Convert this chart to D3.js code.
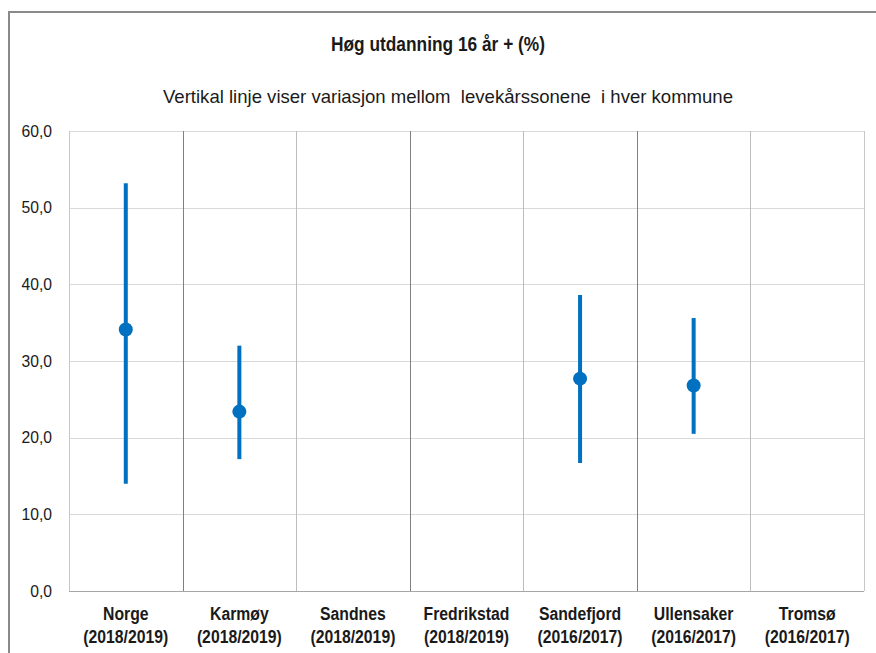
<!DOCTYPE html>
<html>
<head>
<meta charset="utf-8">
<script src="https://cdn.jsdelivr.net/npm/d3@7/dist/d3.min.js"></script>
<style>
  html, body { margin: 0; padding: 0; background: #fff; }
  svg { display: block; font-family: "Liberation Sans", Arial, sans-serif; }
</style>
</head>
<body>
<svg id="chart" width="876" height="653"></svg>
<script>
const categories = ["Norge", "Karmøy", "Sandnes", "Fredrikstad", "Sandefjord", "Ullensaker", "Tromsø"];
const periods = ["(2018/2019)", "(2018/2019)", "(2018/2019)", "(2018/2019)", "(2016/2017)", "(2016/2017)", "(2016/2017)"];
const minValues = [14.0, 17.2, null, null, 16.7, 20.5, null];
const maxValues = [53.2, 32.0, null, null, 38.6, 35.6, null];
const meanValues = [34.1, 23.4, null, null, 27.7, 26.8, null];
const yTicks = [0, 10, 20, 30, 40, 50, 60];
const titleText = "Høg utdanning 16 år + (%)";
const subtitleText = "Vertikal linje viser variasjon mellom  levekårssonene  i hver kommune";

const svg = d3.select("#chart");
const W = 876, H = 653;
const plot = { left: 69, right: 864, top: 131, bottom: 591 };
const color = "#0070C0";

// condense text horizontally like the reference (narrow rendering)
function condense(sel, factor) {
  sel.each(function () {
    const len = this.getComputedTextLength();
    d3.select(this).attr("textLength", len * factor).attr("lengthAdjust", "spacingAndGlyphs");
  });
}

// outer chart border (cropped at right/bottom)
svg.append("rect")
  .attr("x", 9).attr("y", 12)
  .attr("width", W + 20).attr("height", H + 20)
  .attr("fill", "#fff").attr("stroke", "#8a8a8a").attr("stroke-width", 2);

const x = d3.scaleBand().domain(categories).range([plot.left, plot.right]).paddingInner(0).paddingOuter(0);
const y = d3.scaleLinear().domain([0, 60]).range([plot.bottom, plot.top]);

// horizontal gridlines
svg.append("g").selectAll("line").data(yTicks.filter(d => d > 0)).join("line")
  .attr("x1", plot.left).attr("x2", plot.right)
  .attr("y1", d => Math.round(y(d)) + 0.5).attr("y2", d => Math.round(y(d)) + 0.5)
  .attr("stroke", "#d9d9d9").attr("stroke-width", 1);

// vertical category separators
const bounds = categories.map(c => x(c)).concat([plot.right]);
svg.append("g").selectAll("line").data(bounds).join("line")
  .attr("x1", d => Math.round(d) + 0.5).attr("x2", d => Math.round(d) + 0.5)
  .attr("y1", plot.top).attr("y2", plot.bottom)
  .attr("stroke", (d, i) => (i === 0 || i === bounds.length - 1) ? "#c8c8c8" : (i % 2 === 1 ? "#808080" : "#bdbdbd"))
  .attr("stroke-width", 1);

// baseline
svg.append("line")
  .attr("x1", plot.left).attr("x2", plot.right)
  .attr("y1", Math.round(y(0)) + 0.5).attr("y2", Math.round(y(0)) + 0.5)
  .attr("stroke", "#a6a6a6").attr("stroke-width", 1);

// y axis
const fmt = d => d3.format(".1f")(d).replace(".", ",");
const yAxis = d3.axisLeft(y).tickValues(yTicks).tickFormat(fmt).tickSize(0).tickPadding(17);
const gy = svg.append("g").attr("transform", `translate(${plot.left},0)`).call(yAxis);
gy.select(".domain").remove();
gy.selectAll("text").attr("font-size", 16.5).attr("fill", "#1a1a1a")
  .attr("font-family", "'Liberation Sans', Arial, sans-serif");
condense(gy.selectAll("text"), 0.95);

// category labels
const gx = svg.append("g");
categories.forEach((c, i) => {
  const cx = x(c) + x.bandwidth() / 2;
  gx.append("text").attr("class", "cat").attr("x", cx).attr("y", 620).attr("text-anchor", "middle")
    .attr("font-size", 17.5).attr("font-weight", "bold").attr("fill", "#1a1a1a").text(c);
  gx.append("text").attr("class", "cat").attr("x", cx).attr("y", 643).attr("text-anchor", "middle")
    .attr("font-size", 17.5).attr("font-weight", "bold").attr("fill", "#1a1a1a").text(periods[i]);
});
condense(gx.selectAll("text.cat"), 0.9);

// range lines and mean dots
const data = categories.map((c, i) => ({ c, min: minValues[i], max: maxValues[i], mean: meanValues[i] }))
  .filter(d => d.mean !== null);
svg.append("g").selectAll("line").data(data).join("line")
  .attr("x1", d => x(d.c) + x.bandwidth() / 2).attr("x2", d => x(d.c) + x.bandwidth() / 2)
  .attr("y1", d => y(d.min)).attr("y2", d => y(d.max))
  .attr("stroke", color).attr("stroke-width", 4);
svg.append("g").selectAll("circle").data(data).join("circle")
  .attr("cx", d => x(d.c) + x.bandwidth() / 2).attr("cy", d => y(d.mean))
  .attr("r", 7).attr("fill", color);

// titles
svg.append("text").attr("x", 438).attr("y", 51).attr("text-anchor", "middle")
  .attr("font-size", 21).attr("font-weight", "bold").attr("fill", "#1a1a1a")
  .attr("textLength", 214).attr("lengthAdjust", "spacingAndGlyphs").text(titleText);
svg.append("text").attr("x", 448).attr("y", 103).attr("text-anchor", "middle")
  .attr("font-size", 18.5).attr("fill", "#1a1a1a").style("white-space", "pre")
  .attr("textLength", 570).attr("lengthAdjust", "spacingAndGlyphs").text(subtitleText);
</script>
</body>
</html>
